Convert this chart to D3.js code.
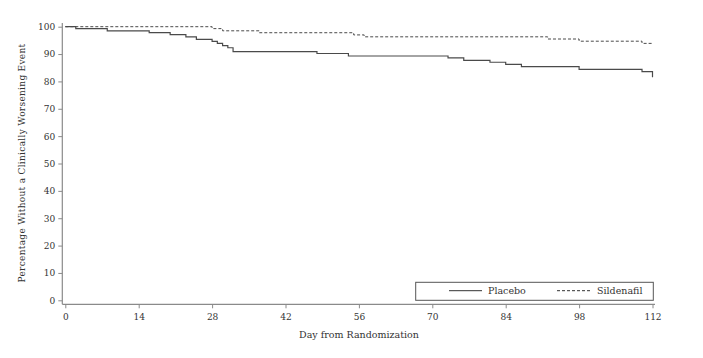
<!DOCTYPE html>
<html><head><meta charset="utf-8">
<script src="https://cdn.jsdelivr.net/npm/d3@7"></script>
<style>body{margin:0;background:#fff}svg{display:block}text{font-family:"DejaVu Serif",serif;fill:#333}</style>
</head><body>
<svg id="c" width="703" height="358"></svg>
<script>
const xTicks = [0,14,28,42,56,70,84,98,112];
const yTicks = [0,10,20,30,40,50,60,70,80,90,100];
const placeboDays = [0,2,8,16,20,23,25,28,29,30,31,32,48,54,73,76,81,84,87,98,110,112];
const placeboVals = [100,99.3,98.5,97.8,97.1,96.3,95.4,94.6,93.9,93.1,92.3,90.9,90.2,89.3,88.6,87.7,87.0,86.2,85.4,84.4,83.6,81.5];
const sildDays = [0,28,30,37,55,57,92,98,110,112];
const sildVals = [100,99.3,98.5,97.8,97.0,96.3,95.5,94.7,93.9,93.9];
const seriesNames = ["Placebo","Sildenafil"];
const xTitle = "Day from Randomization";
const yTitle = "Percentage Without a Clinically Worsening Event";

const svg = d3.select("#c");
const x = d3.scaleLinear().domain([0,112]).range([65.3,652.5]);
const y = d3.scaleLinear().domain([0,100]).range([300.3,26.7]);
const axisColor = "#8a8a8a";

// axis lines (offset)
svg.append("line").attr("x1",62.3).attr("x2",62.3).attr("y1",23).attr("y2",304.3).attr("stroke",axisColor).attr("stroke-width",1.2);
svg.append("line").attr("x1",62.3).attr("x2",655).attr("y1",304.3).attr("y2",304.3).attr("stroke",axisColor).attr("stroke-width",1.2);

const yAx = svg.append("g").attr("transform","translate(62.3,0)")
  .call(d3.axisLeft(y).tickValues(yTicks).tickSize(4).tickPadding(3));
const xAx = svg.append("g").attr("transform","translate(0,304.3)")
  .call(d3.axisBottom(x).tickValues(xTicks).tickSize(4).tickPadding(5));
[yAx,xAx].forEach(g=>{
  g.select(".domain").remove();
  g.selectAll(".tick line").attr("stroke",axisColor);
  g.selectAll(".tick text").style("font-family","DejaVu Serif").style("font-size","9px").attr("fill","#333");
});

svg.append("text").attr("x",359).attr("y",338).attr("text-anchor","middle").style("font-size","9.5px").text(xTitle);
svg.append("text").attr("transform","translate(25,163) rotate(-90)").attr("text-anchor","middle").style("font-size","9px").style("letter-spacing","0.3px").text(yTitle);

const line = d3.line().x(d=>x(d[0])).y(d=>y(d[1])).curve(d3.curveStepAfter);
const pl = placeboDays.map((d,i)=>[d,placeboVals[i]]);
const sl = sildDays.map((d,i)=>[d,sildVals[i]]);
svg.append("path").attr("d",line(pl)).attr("fill","none").attr("stroke","#4a4a4a").attr("stroke-width",1.2);
svg.append("path").attr("d",line(sl)).attr("fill","none").attr("stroke","#4a4a4a").attr("stroke-width",1).attr("stroke-dasharray","3,2");

// legend
svg.append("rect").attr("x",415.7).attr("y",282.3).attr("width",237.6).attr("height",18).attr("fill","#fff").attr("stroke","#555").attr("stroke-width",1);
const leg = [{n:seriesNames[0],x1:449,dash:null,tx:488},{n:seriesNames[1],x1:557,dash:"3,2",tx:597}];
leg.forEach(l=>{
  svg.append("line").attr("x1",l.x1).attr("x2",l.x1+33).attr("y1",290.7).attr("y2",290.7).attr("stroke","#333").attr("stroke-width",1).attr("stroke-dasharray",l.dash);
  svg.append("text").attr("x",l.tx).attr("y",294.3).style("font-size","9.5px").text(l.n);
});
</script>
</body></html>
